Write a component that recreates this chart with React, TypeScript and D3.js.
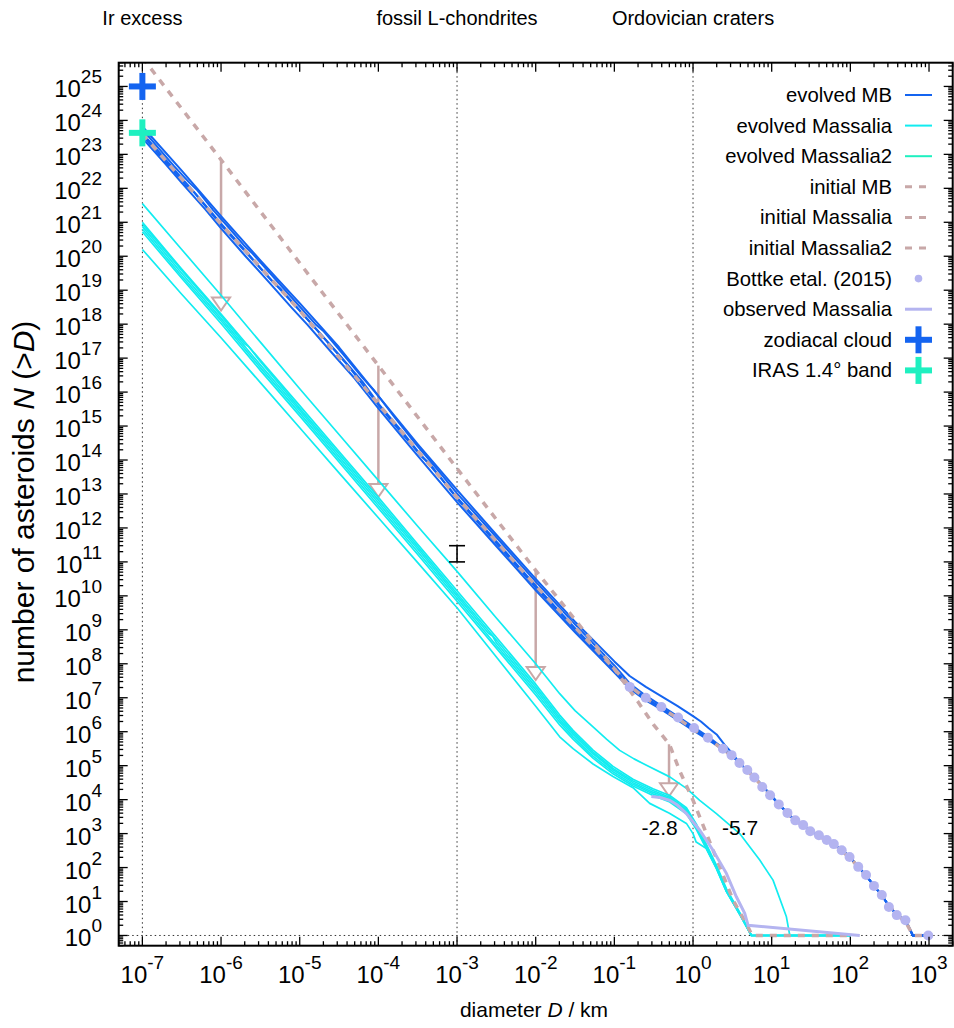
import React from "react";
import * as d3 from "d3";

// ---------- data (log10 D [km], log10 N(>D)) ----------
const mbTail: [number, number][] = [
  [0.6, 5.06], [0.7, 4.85], [0.8, 4.62], [0.9, 4.36], [1.0, 4.1], [1.1, 3.84], [1.2, 3.6],
  [1.3, 3.39], [1.4, 3.24], [1.5, 3.07], [1.6, 2.95], [1.7, 2.81], [1.8, 2.68], [1.9, 2.5],
  [2.0, 2.3], [2.1, 2.02], [2.2, 1.77], [2.3, 1.46], [2.4, 1.18], [2.5, 0.84], [2.6, 0.6],
  [2.7, 0.45], [2.795, 0.0], [3.0, 0.0],
];
const mbA: [number, number][] = [
  [-7, 23.62], [-6.8, 23.1], [-6.5, 22.3], [-6.3, 21.78], [-6, 20.96], [-5.8, 20.45], [-5.5, 19.66],
  [-5.2, 18.9], [-5, 18.4], [-4.7, 17.62], [-4.5, 17.1], [-4.2, 16.3], [-4, 15.66], [-3.7, 14.84],
  [-3.5, 14.26], [-3.2, 13.45], [-3, 12.9], [-2.5, 11.6], [-2, 10.3], [-1.5, 9.05], [-1, 7.85],
  [-0.805, 7.35], [-0.6, 7.0], [-0.4, 6.7], [-0.2, 6.4], [0, 6.1], [0.2, 5.8], [0.4, 5.46], [0.5, 5.29],
];
const mbB: [number, number][] = [
  [-7, 23.74], [-6.8, 23.2], [-6.6, 22.66], [-6.4, 22.16], [-6.3, 21.94], [-6.1, 21.36], [-5.9, 20.84],
  [-5.7, 20.3], [-5.6, 20.08], [-5.3, 19.3], [-5, 18.52], [-4.8, 18.0], [-4.7, 17.8], [-4.4, 16.98],
  [-4.2, 16.42], [-4.05, 16.04], [-3.8, 15.28], [-3.5, 14.4], [-3.3, 13.86], [-3, 13.02], [-2.5, 11.72],
  [-2, 10.42], [-1.5, 9.16], [-1, 7.95], [-0.805, 7.42], [-0.6, 7.06], [-0.4, 6.76], [-0.2, 6.46],
  [0, 6.15], [0.2, 5.84], [0.4, 5.48], [0.5, 5.3],
];
const mbC: [number, number][] = [
  [-7, 23.48], [-6.7, 22.7], [-6.5, 22.16], [-6.2, 21.38], [-6, 20.82], [-5.7, 20.03], [-5.4, 19.26],
  [-5.1, 18.48], [-4.9, 17.98], [-4.6, 17.18], [-4.3, 16.4], [-4, 15.52], [-3.6, 14.4], [-3.3, 13.58],
  [-3, 12.76], [-2.5, 11.46], [-2, 10.16], [-1.5, 8.93], [-1, 7.74], [-0.805, 7.27], [-0.6, 6.92],
  [-0.4, 6.65], [-0.2, 6.35], [0, 6.04], [0.2, 5.75], [0.4, 5.44], [0.5, 5.28],
];
const mbD: [number, number][] = [
  [-7, 23.56], [-6.6, 22.5], [-6.45, 22.1], [-6.35, 21.9], [-6.0, 20.92], [-5.6, 19.9], [-5.35, 19.26],
  [-5.25, 19.06], [-4.8, 17.88], [-4.4, 16.82], [-4.0, 15.62], [-3.7, 14.78], [-3.45, 14.1], [-3.35, 13.9],
  [-3, 12.86], [-2.5, 11.55], [-2, 10.24], [-1.5, 9.0], [-1, 7.8], [-0.805, 7.32], [-0.6, 6.97],
  [-0.4, 6.68], [-0.2, 6.38], [0, 6.08], [0.2, 5.78], [0.4, 5.45], [0.5, 5.29],
];
const mbU: [number, number][] = [
  [-7, 23.82], [-6.5, 22.52], [-6, 21.18], [-5.5, 19.88], [-5, 18.62], [-4.5, 17.32], [-4, 15.88],
  [-3.5, 14.47], [-3, 13.12], [-2.5, 11.8], [-2, 10.5], [-1.5, 9.24], [-1, 8.07], [-0.805, 7.64],
  [-0.6, 7.32], [-0.4, 7.04], [-0.2, 6.76], [0, 6.46], [0.1, 6.3], [0.2, 6.1], [0.3, 5.92], [0.4, 5.62],
  [0.5, 5.36],
];

const cy1: [number, number][] = [
  [-7, 21.55], [-6.5, 20.2], [-6, 18.85], [-5.5, 17.47], [-5, 16.1], [-4.5, 14.75], [-4, 13.4],
  [-3.5, 12.05], [-3, 10.72], [-2.5, 9.35], [-2, 8.0], [-1.695, 7.12], [-1.5, 6.62], [-1.271, 6.14],
  [-1.1, 5.78], [-0.932, 5.45], [-0.75, 5.2], [-0.592, 5.01], [-0.296, 4.67], [-0.084, 4.33],
  [0.085, 3.98], [0.297, 3.59], [0.593, 3.0], [0.848, 2.22], [1.017, 1.63], [1.187, 0.55], [1.23, 0], [2.0, 0],
];
const cy2: [number, number][] = [
  [-7, 21.0], [-6.5, 19.62], [-6, 18.3], [-5.5, 16.94], [-5, 15.6], [-4.5, 14.25], [-4, 12.9],
  [-3.5, 11.52], [-3, 10.15], [-2.5, 8.78], [-2, 7.4], [-1.695, 6.49], [-1.525, 6.04], [-1.271, 5.46],
  [-1.017, 4.98], [-0.763, 4.6], [-0.509, 4.32], [-0.296, 4.12], [-0.084, 3.76], [0.043, 3.28],
  [0.17, 2.68], [0.297, 2.07], [0.424, 1.38], [0.593, 0.68], [0.742, 0], [2.0, 0],
];
const cy3: [number, number][] = [
  [-7, 20.95], [-6.5, 19.58], [-6, 18.25], [-5.7, 17.42], [-5.65, 17.34], [-5.5, 16.9], [-5, 15.52],
  [-4.5, 14.18], [-4, 12.82], [-3.5, 11.45], [-3, 10.07], [-2.5, 8.7], [-2, 7.32], [-1.695, 6.42],
  [-1.525, 5.98], [-1.271, 5.4], [-1.017, 4.92], [-0.763, 4.55], [-0.509, 4.27], [-0.296, 4.07],
  [-0.084, 3.71], [0.043, 3.22], [0.17, 2.63], [0.297, 2.03], [0.424, 1.34], [0.593, 0.66], [0.742, 0], [2.0, 0],
];
const cy4: [number, number][] = [
  [-7, 20.88], [-6.5, 19.5], [-6, 18.17], [-5.5, 16.8], [-5, 15.46], [-4.5, 14.1], [-4, 12.74],
  [-3.5, 11.38], [-3, 10.0], [-2.6, 8.9], [-2.55, 8.82], [-2.5, 8.62], [-2, 7.24], [-1.695, 6.35],
  [-1.525, 5.92], [-1.271, 5.35], [-1.017, 4.88], [-0.763, 4.5], [-0.509, 4.22], [-0.296, 4.03],
  [-0.084, 3.68], [0.043, 3.2], [0.17, 2.61], [0.297, 2.02], [0.424, 1.33], [0.593, 0.65], [0.742, 0], [2.0, 0],
];
const cy5: [number, number][] = [
  [-7, 20.8], [-6.5, 19.42], [-6, 18.1], [-5.5, 16.72], [-5, 15.38], [-4.5, 14.02], [-4, 12.66],
  [-3.5, 11.3], [-3, 9.92], [-2.5, 8.54], [-2, 7.16], [-1.695, 6.28], [-1.525, 5.85], [-1.271, 5.28],
  [-1.017, 4.82], [-0.763, 4.45], [-0.509, 4.17], [-0.296, 3.98], [-0.084, 3.63], [0.043, 3.16],
  [0.17, 2.58], [0.297, 2.0], [0.424, 1.31], [0.593, 0.63], [0.742, 0], [2.0, 0],
];
const cy6: [number, number][] = [
  [-7, 20.72], [-6.5, 19.35], [-6, 18.02], [-5.5, 16.64], [-5, 15.3], [-4.5, 13.94], [-4, 12.58],
  [-3.5, 11.22], [-3, 9.84], [-2.5, 8.46], [-2, 7.08], [-1.695, 6.2], [-1.525, 5.78], [-1.271, 5.22],
  [-1.017, 4.76], [-0.763, 4.4], [-0.509, 4.12], [-0.296, 3.93], [-0.084, 3.58], [0.043, 3.12],
  [0.17, 2.55], [0.297, 1.97], [0.424, 1.29], [0.593, 0.62], [0.742, 0], [2.0, 0],
];
const cy7: [number, number][] = [
  [-7, 20.2], [-6.5, 18.88], [-6, 17.6], [-5.5, 16.28], [-5, 14.95], [-4.5, 13.62], [-4, 12.3],
  [-3.5, 10.98], [-3, 9.65], [-2.5, 8.2], [-2, 6.75], [-1.695, 5.85], [-1.525, 5.5], [-1.271, 5.05],
  [-1.017, 4.68], [-0.763, 4.35], [-0.551, 3.89], [-0.3, 3.6], [-0.084, 3.3], [0.0, 3.0], [0.04, 2.75],
  [0.17, 2.56], [0.297, 1.98], [0.424, 1.3], [0.593, 0.62], [0.742, 0], [2.0, 0],
];

const initMB: [number, number][] = [
  [-7, 23.6], [-6, 20.95], [-5, 18.4], [-4, 15.65], [-3, 12.9], [-2, 10.3], [-1, 7.85], [-0.8, 7.33],
  [-0.6, 6.98], [-0.4, 6.7], [-0.2, 6.4], [0, 6.08], [0.2, 5.78], [0.4, 5.45], [0.6, 5.05], [0.8, 4.6],
  [1.0, 4.08], [1.2, 3.58], [1.4, 3.22], [1.6, 2.93], [1.8, 2.66], [2.0, 2.28], [2.2, 1.75], [2.4, 1.15],
  [2.6, 0.58], [2.7, 0.42], [2.795, 0.0], [3.0, 0.0],
];
const initMassalia: [number, number][] = [
  [-7, 25.85], [-6, 22.84], [-5, 19.8], [-4, 16.78], [-3, 13.75], [-2, 10.75], [-1.5, 9.3], [-1, 7.85],
  [-0.7, 6.88], [-0.5, 6.2], [-0.3, 5.63], [-0.17, 4.85], [0, 3.98], [0.17, 3.0], [0.34, 2.02],
  [0.51, 1.04], [0.7, 0.25], [0.75, 0.0], [2.0, 0.0],
];
const bottke: [number, number][] = [
  [-0.805, 7.32], [-0.601, 7.0], [-0.402, 6.73], [-0.19, 6.42], [0.013, 6.11], [0.19, 5.82], [0.38, 5.5],
  [0.49, 5.31], [0.59, 5.08], [0.69, 4.87], [0.78, 4.65], [0.88, 4.37], [0.98, 4.13], [1.09, 3.86],
  [1.2, 3.61], [1.3, 3.39], [1.4, 3.25], [1.49, 3.07], [1.6, 2.95], [1.7, 2.81], [1.79, 2.69],
  [1.89, 2.51], [1.99, 2.31], [2.1, 2.02], [2.2, 1.78], [2.3, 1.46], [2.4, 1.19], [2.49, 0.84],
  [2.59, 0.6], [2.7, 0.45], [2.99, 0.0],
];
const observedMassalia: [number, number][] = [
  [-0.53, 4.09], [-0.42, 4.06], [-0.296, 3.98], [-0.2, 3.84], [-0.084, 3.59], [0.085, 3.1],
  [0.254, 2.51], [0.424, 1.83], [0.551, 1.14], [0.657, 0.65], [0.7, 0.3], [2.12, 0.0],
];

const arrowLogD = [-6, -4, -2, -0.305];
const arrowFrom = [22.84, 16.78, 10.75, 5.63];
const arrowTo = [18.4, 12.91, 7.52, 4.1];

const errD = 1e-3;
const errLow = 1e11;
const errHigh = 3e11;

const zodiacal = { D: 1e-7, N: 1e25 };
const iras = { D: 1e-7, N: 4.3e23 };

const xTickExps = [-7, -6, -5, -4, -3, -2, -1, 0, 1, 2, 3];
const yTickExps = d3.range(0, 26);
const vLinesD = [1e-7, 1e-3, 1];
const topLabels = ["Ir excess", "fossil L-chondrites", "Ordovician craters"];
const slopeLabels = [
  { D: 0.376, N: 10 ** 2.95, text: "-2.8" },
  { D: 3.98, N: 10 ** 2.95, text: "-5.7" },
];

const legendNames = [
  "evolved MB", "evolved Massalia", "evolved Massalia2", "initial MB", "initial Massalia",
  "initial Massalia2", "Bottke etal. (2015)", "observed Massalia", "zodiacal cloud", "IRAS 1.4° band",
];

// ---------- style ----------
const C_MB = "#1464f0";
const C_MAS = "#12ecf0";
const C_MAS2 = "#1ef0c0";
const C_INIT = "#c8a8a8";
const C_BOT = "#b4b4f0";
const FONT = "'Liberation Sans', Arial, Helvetica, sans-serif";

const X0 = 118.7, X1 = 952.7, Y0 = 62.7, Y1 = 945.7;

export default function App() {
  const x = d3.scaleLog().domain([5e-8, 2e3]).range([X0, X1]);
  const y = d3.scaleLog().domain([0.5, 5e25]).range([Y1, Y0]);
  const line = d3
    .line<[number, number]>()
    .x((d) => x(10 ** d[0]))
    .y((d) => y(10 ** d[1]));

  const mbLines = [mbA, mbB, mbC, mbD, mbU].map((s) => s.concat(mbTail));
  const cyLines = [cy1, cy2, cy3, cy4, cy5, cy6, cy7];

  const xMinor: number[] = [];
  for (let e = -8; e <= 3; e++) for (let k = 2; k <= 9; k++) {
    const v = k * 10 ** e;
    if (v >= 5e-8 && v <= 2e3) xMinor.push(v);
  }
  const yMinor: number[] = [];
  for (let e = -1; e <= 25; e++) for (let k = 2; k <= 9; k++) {
    const v = k * 10 ** e;
    if (v >= 0.5 && v <= 5e25) yMinor.push(v);
  }

  const cross = (cx: number, cyy: number, h: number, color: string, sw: number, key: string) => (
    <g key={key}>
      <line x1={cx - h} x2={cx + h} y1={cyy} y2={cyy} stroke={color} strokeWidth={sw} />
      <line x1={cx} x2={cx} y1={cyy - h} y2={cyy + h} stroke={color} strokeWidth={sw} />
    </g>
  );

  const legendY0 = 95;
  const legendDY = 30.6;
  const legendTextX = 892;
  const lx1 = 905, lx2 = 932;

  return (
    <svg width={954} height={1028} style={{ display: "block", position: "absolute", left: 0, top: 0 }} fontFamily={FONT}>
      <defs>
        <clipPath id="plotclip">
          <rect x={X0} y={Y0} width={X1 - X0} height={Y1 - Y0} />
        </clipPath>
      </defs>
      <rect x={0} y={0} width={954} height={1028} fill="#fff" />

      {topLabels.map((t, i) => (
        <text key={t} x={x(vLinesD[i])} y={25} fontSize={20} textAnchor="middle">{t}</text>
      ))}

      {vLinesD.map((d) => (
        <line key={d} x1={x(d)} x2={x(d)} y1={Y0} y2={Y1} stroke="#333" strokeWidth={1} strokeDasharray="1.5,3" />
      ))}
      <line x1={X0} x2={X1} y1={y(1)} y2={y(1)} stroke="#333" strokeWidth={1} strokeDasharray="1.5,3" />

      <g clipPath="url(#plotclip)">
        {arrowLogD.map((ld, i) => {
          const ax = x(10 ** ld);
          const ya = y(10 ** arrowFrom[i]);
          const yb = y(10 ** arrowTo[i]);
          return (
            <g key={"ar" + i} stroke={C_INIT} fill="none">
              <line x1={ax} x2={ax} y1={ya} y2={yb - 13} strokeWidth={2.5} />
              <path d={`M${ax - 9},${yb - 13} L${ax + 9},${yb - 13} L${ax},${yb} Z`} strokeWidth={2} />
            </g>
          );
        })}

        {mbLines.map((s, i) => (
          <path key={"mb" + i} d={line(s) || ""} fill="none" stroke={C_MB} strokeWidth={2} strokeLinejoin="round" />
        ))}
        {cyLines.map((s, i) => (
          <path key={"cy" + i} d={line(s) || ""} fill="none" stroke={C_MAS} strokeWidth={1.7} strokeLinejoin="round" />
        ))}
        <path d={line(initMB) || ""} fill="none" stroke={C_INIT} strokeWidth={3.5} strokeDasharray="7,7" />
        <path d={line(initMassalia) || ""} fill="none" stroke={C_INIT} strokeWidth={3.5} strokeDasharray="7,7" />
        {bottke.map((d, i) => (
          <circle key={"b" + i} cx={x(10 ** d[0])} cy={y(10 ** d[1])} r={5} fill={C_BOT} />
        ))}
        <path d={line(observedMassalia) || ""} fill="none" stroke={C_BOT} strokeWidth={3} />
      </g>

      <g stroke="#000" strokeWidth={1.6}>
        <line x1={x(errD)} x2={x(errD)} y1={y(errLow)} y2={y(errHigh)} />
        <line x1={x(errD) - 8} x2={x(errD) + 8} y1={y(errLow)} y2={y(errLow)} />
        <line x1={x(errD) - 8} x2={x(errD) + 8} y1={y(errHigh)} y2={y(errHigh)} />
      </g>

      {cross(x(zodiacal.D), y(zodiacal.N), 13.5, C_MB, 6, "zc")}
      {cross(x(iras.D), y(iras.N), 13.5, C_MAS2, 6, "ir")}

      {slopeLabels.map((s) => (
        <text key={s.text} x={x(s.D)} y={y(s.N)} fontSize={21} textAnchor="middle">{s.text}</text>
      ))}

      {legendNames.map((n, i) => {
        const ly = legendY0 + i * legendDY;
        let sample: React.ReactNode = null;
        if (i === 0) sample = <line x1={lx1} x2={lx2} y1={ly} y2={ly} stroke={C_MB} strokeWidth={2} />;
        else if (i === 1) sample = <line x1={lx1} x2={lx2} y1={ly} y2={ly} stroke={C_MAS} strokeWidth={2} />;
        else if (i === 2) sample = <line x1={lx1} x2={lx2} y1={ly} y2={ly} stroke={C_MAS2} strokeWidth={2} />;
        else if (i >= 3 && i <= 5) sample = <line x1={lx1} x2={lx2} y1={ly} y2={ly} stroke={C_INIT} strokeWidth={3} strokeDasharray="7,7" />;
        else if (i === 6) sample = <circle cx={(lx1 + lx2) / 2} cy={ly} r={3.8} fill={C_BOT} />;
        else if (i === 7) sample = <line x1={lx1} x2={lx2} y1={ly} y2={ly} stroke={C_BOT} strokeWidth={3} />;
        else if (i === 8) sample = cross((lx1 + lx2) / 2, ly, 13.5, C_MB, 6, "lz");
        else sample = cross((lx1 + lx2) / 2, ly, 13.5, C_MAS2, 6, "li");
        return (
          <g key={n}>
            <text x={legendTextX} y={ly + 7} fontSize={20.3} textAnchor="end">{n}</text>
            {sample}
          </g>
        );
      })}

      <rect x={X0} y={Y0} width={X1 - X0} height={Y1 - Y0} fill="none" stroke="#000" strokeWidth={2} />

      <g stroke="#000" strokeWidth={1.3}>
        {xTickExps.map((e) => (
          <g key={"xt" + e}>
            <line x1={x(10 ** e)} x2={x(10 ** e)} y1={Y1} y2={Y1 - 9} />
            <line x1={x(10 ** e)} x2={x(10 ** e)} y1={Y0} y2={Y0 + 9} />
          </g>
        ))}
        {xMinor.map((v, i) => (
          <g key={"xm" + i}>
            <line x1={x(v)} x2={x(v)} y1={Y1} y2={Y1 - 4.5} />
            <line x1={x(v)} x2={x(v)} y1={Y0} y2={Y0 + 4.5} />
          </g>
        ))}
        {yTickExps.map((e) => (
          <g key={"yt" + e}>
            <line x1={X0} x2={X0 + 9} y1={y(10 ** e)} y2={y(10 ** e)} />
            <line x1={X1} x2={X1 - 9} y1={y(10 ** e)} y2={y(10 ** e)} />
          </g>
        ))}
        {yMinor.map((v, i) => (
          <g key={"ym" + i}>
            <line x1={X0} x2={X0 + 4.5} y1={y(v)} y2={y(v)} />
            <line x1={X1} x2={X1 - 4.5} y1={y(v)} y2={y(v)} />
          </g>
        ))}
      </g>

      {xTickExps.map((e) => (
        <text key={"xl" + e} x={x(10 ** e)} y={983} fontSize={24} textAnchor="middle">
          10<tspan fontSize={19} dy={-14}>{String(e)}</tspan>
        </text>
      ))}
      {yTickExps.map((e) => (
        <text key={"yl" + e} x={102} y={y(10 ** e) + 11} fontSize={24} textAnchor="end">
          10<tspan fontSize={19} dy={-14}>{String(e)}</tspan>
        </text>
      ))}

      <text x={534} y={1017} fontSize={21} textAnchor="middle">
        diameter <tspan fontStyle="italic">D</tspan> / km
      </text>
      <text transform="translate(34,502) rotate(-90)" fontSize={30} textAnchor="middle">
        number of asteroids <tspan fontStyle="italic">N</tspan> (&gt;<tspan fontStyle="italic">D</tspan>)
      </text>
    </svg>
  );
}
